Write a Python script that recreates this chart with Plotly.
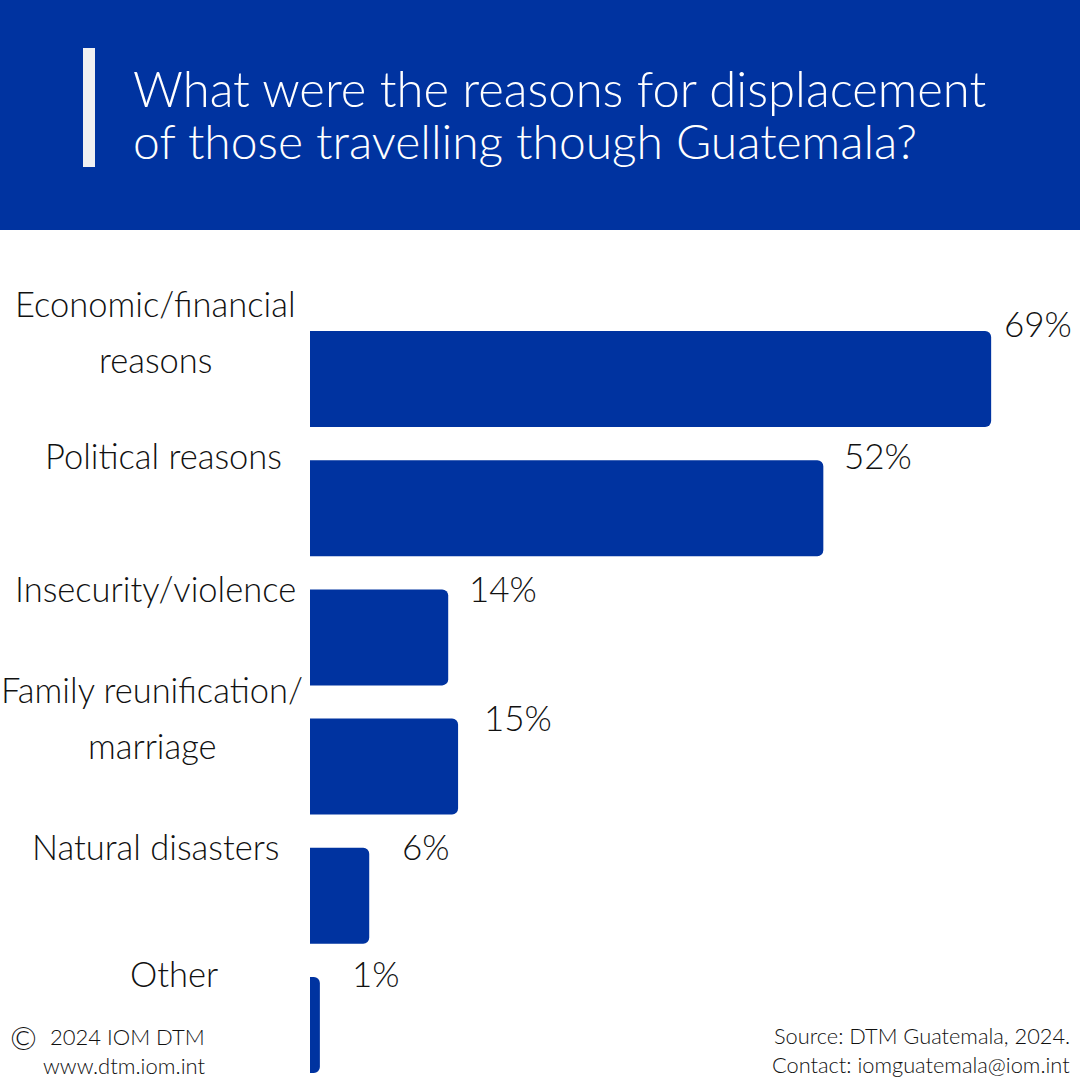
#!/usr/bin/env python3
import plotly.graph_objects as go

BLUE = '#0033A0'
FONT = 'Lato Light, Lato, sans-serif'
INK = '#111111'

title_lines = ['What were the reasons for displacement', 'of those travelling though Guatemala?']
categories = ['Economic/financial reasons', 'Political reasons', 'Insecurity/violence',
              'Family reunification/ marriage', 'Natural disasters', 'Other']
values = [69, 52, 14, 15, 6, 1]
value_labels = ['69%', '52%', '14%', '15%', '6%', '1%']
category_lines = [['Economic/financial', 'reasons'], ['Political reasons'], ['Insecurity/violence'],
                  ['Family reunification/', 'marriage'], ['Natural disasters'], ['Other']]

# pixel placement of the hand-set labels: x centre, y of each line
category_pos = [(156, [303, 359]), (163, [455]), (156, [588]), (152, [689, 745]), (156, [846]), (174, [973])]
value_shift = [(11, 56), (19, 53), (19, 49), (24, 50), (31, 50), (30, 52)]

W = H = 1080


def px(x):
    return x / W


def py(y):
    return 1 - y / H


def text_at(x, y, text, size, color=INK, anchor='center'):
    return dict(x=px(x), y=py(y), xref='paper', yref='paper', text=text, showarrow=False,
                xanchor=anchor, yanchor='middle', font=dict(family=FONT, size=size, color=color))


fig = go.Figure(go.Bar(
    x=values, y=categories, orientation='h',
    marker=dict(color=BLUE, line=dict(width=0), cornerradius=6),
    hoverinfo='skip',
))

annotations = []
annotations.append(text_at(131, 88, title_lines[0], 49, 'white', 'left'))
annotations.append(text_at(131, 141, title_lines[1], 48, 'white', 'left'))

for lines, (cx, ys) in zip(category_lines, category_pos):
    for line, y in zip(lines, ys):
        annotations.append(text_at(cx, y, line, 34.5))

for cat, val, lab, (dx, dy) in zip(categories, values, value_labels, value_shift):
    annotations.append(dict(x=val, y=cat, text=lab, showarrow=False, xanchor='left', yanchor='middle',
                            xshift=dx, yshift=dy, font=dict(family=FONT, size=35, color=INK)))

annotations.append(text_at(23, 1037, '©', 32, INK))
annotations.append(text_at(207, 1036, '2024 IOM DTM', 22, INK, 'right'))
annotations.append(text_at(207, 1065, 'www.dtm.iom.int', 22, INK, 'right'))
annotations.append(text_at(1072, 1035, 'Source: DTM Guatemala, 2024.', 21.8, INK, 'right'))
annotations.append(text_at(1072, 1064, 'Contact: iomguatemala@iom.int', 21.8, INK, 'right'))

fig.update_layout(
    width=W, height=H,
    autosize=False,
    margin=dict(l=0, r=0, t=0, b=0),
    paper_bgcolor='white', plot_bgcolor='white',
    showlegend=False,
    bargap=0.257,
    annotations=annotations,
    shapes=[
        dict(type='rect', xref='paper', yref='paper', x0=0, x1=1, y0=py(230), y1=1,
             fillcolor=BLUE, line_width=0, layer='below'),
        dict(type='rect', xref='paper', yref='paper', x0=px(83), x1=px(95), y0=py(167), y1=py(48),
             fillcolor='#F0F0F2', line_width=0),
    ],
    xaxis=dict(domain=[px(310), 1], range=[0, 78.0], visible=False),
    yaxis=dict(domain=[0, py(231)], range=[5.426, -1.1455], type='category',
               categoryorder='array', categoryarray=categories, visible=False),
)

# page default margin would push the 1080 figure off the window
fig.write_html("out.html", config=dict(displayModeBar=False),
               post_script="document.body.style.margin='0';document.body.style.overflow='hidden';")
